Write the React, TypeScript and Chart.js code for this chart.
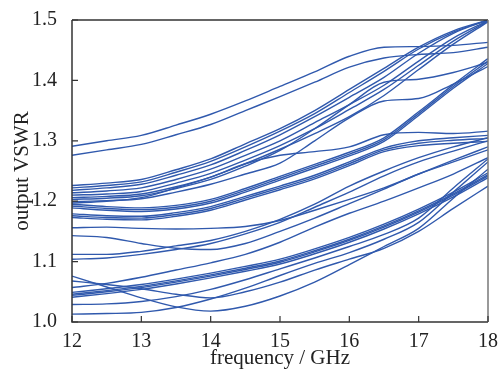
import React, { useEffect, useRef } from 'react';
import { Chart, registerables } from 'chart.js';

Chart.register(...registerables);

// frequency grid (GHz)
const freqs = [12, 12.5, 13, 13.5, 14, 14.5, 15, 15.5, 16, 16.5, 17, 17.5, 18];
const xTicks = [12, 13, 14, 15, 16, 17, 18];
const yTicks = [1.0, 1.1, 1.2, 1.3, 1.4, 1.5];

// top pair
const lineA1 = [1.291, 1.300, 1.309, 1.326, 1.344, 1.366, 1.390, 1.414, 1.440, 1.455, 1.456, 1.458, 1.463];
const lineA2 = [1.276, 1.285, 1.294, 1.310, 1.327, 1.350, 1.373, 1.397, 1.422, 1.437, 1.443, 1.446, 1.455];
// upper cluster converging to 1.5
const lineB1 = [1.226, 1.230, 1.236, 1.252, 1.270, 1.295, 1.320, 1.350, 1.385, 1.420, 1.455, 1.482, 1.500];
const lineB2 = [1.222, 1.226, 1.232, 1.248, 1.266, 1.290, 1.316, 1.345, 1.380, 1.415, 1.452, 1.480, 1.500];
const lineB3 = [1.218, 1.222, 1.228, 1.243, 1.260, 1.284, 1.310, 1.340, 1.372, 1.405, 1.445, 1.478, 1.500];
const lineB4 = [1.214, 1.217, 1.222, 1.236, 1.253, 1.276, 1.300, 1.330, 1.360, 1.392, 1.432, 1.470, 1.499];
const lineB5 = [1.210, 1.212, 1.216, 1.230, 1.246, 1.268, 1.292, 1.320, 1.352, 1.385, 1.425, 1.465, 1.498];
const lineB6 = [1.206, 1.208, 1.212, 1.224, 1.240, 1.262, 1.286, 1.312, 1.340, 1.375, 1.418, 1.460, 1.497];
const lineB7 = [1.203, 1.205, 1.209, 1.221, 1.236, 1.258, 1.284, 1.320, 1.360, 1.397, 1.402, 1.413, 1.430];
const lineB8 = [1.199, 1.201, 1.204, 1.215, 1.228, 1.245, 1.263, 1.300, 1.338, 1.366, 1.370, 1.394, 1.423];
const lineF1 = [1.197, 1.200, 1.206, 1.222, 1.240, 1.262, 1.276, 1.282, 1.290, 1.310, 1.314, 1.312, 1.316];
// thick bundle rising to 1.43
const lineC1 = [1.195, 1.191, 1.189, 1.193, 1.203, 1.221, 1.241, 1.261, 1.281, 1.305, 1.348, 1.393, 1.436];
const lineC2 = [1.192, 1.188, 1.186, 1.190, 1.200, 1.218, 1.238, 1.258, 1.278, 1.302, 1.345, 1.390, 1.432];
const lineC3 = [1.189, 1.185, 1.183, 1.187, 1.197, 1.215, 1.235, 1.255, 1.275, 1.299, 1.342, 1.387, 1.428];
// thick bundle levelling at 1.30
const lineD1 = [1.179, 1.176, 1.175, 1.181, 1.191, 1.208, 1.225, 1.243, 1.265, 1.288, 1.300, 1.305, 1.309];
const lineD2 = [1.176, 1.173, 1.172, 1.178, 1.188, 1.205, 1.222, 1.240, 1.262, 1.285, 1.296, 1.301, 1.304];
const lineD3 = [1.173, 1.170, 1.169, 1.175, 1.185, 1.202, 1.219, 1.237, 1.259, 1.282, 1.292, 1.296, 1.299];
// middle lines
const lineG1 = [1.156, 1.157, 1.155, 1.154, 1.155, 1.158, 1.168, 1.185, 1.203, 1.222, 1.245, 1.268, 1.290];
const lineG2 = [1.143, 1.140, 1.130, 1.122, 1.120, 1.130, 1.150, 1.172, 1.196, 1.220, 1.245, 1.265, 1.285];
const lineG3 = [1.112, 1.112, 1.117, 1.126, 1.135, 1.150, 1.170, 1.195, 1.225, 1.250, 1.272, 1.290, 1.305];
const lineG4 = [1.104, 1.106, 1.112, 1.120, 1.130, 1.146, 1.165, 1.190, 1.215, 1.242, 1.265, 1.283, 1.300];
// lower lines
const lineH1 = [1.076, 1.058, 1.040, 1.025, 1.018, 1.026, 1.043, 1.066, 1.095, 1.125, 1.155, 1.205, 1.253];
const lineH2 = [1.013, 1.014, 1.016, 1.024, 1.038, 1.056, 1.077, 1.097, 1.115, 1.137, 1.165, 1.215, 1.265];
const lineH3 = [1.029, 1.030, 1.034, 1.042, 1.054, 1.070, 1.088, 1.106, 1.125, 1.145, 1.172, 1.222, 1.270];
const lineH4 = [1.068, 1.062, 1.055, 1.046, 1.040, 1.050, 1.066, 1.086, 1.104, 1.122, 1.150, 1.188, 1.225];
const lineH5 = [1.057, 1.064, 1.074, 1.086, 1.098, 1.112, 1.132, 1.157, 1.180, 1.200, 1.222, 1.245, 1.272];
// thick lowest bundle
const lineE1 = [1.049, 1.055, 1.062, 1.071, 1.081, 1.092, 1.104, 1.121, 1.140, 1.162, 1.187, 1.215, 1.247];
const lineE2 = [1.046, 1.052, 1.059, 1.068, 1.078, 1.089, 1.101, 1.118, 1.137, 1.159, 1.184, 1.212, 1.244];
const lineE3 = [1.044, 1.050, 1.057, 1.066, 1.076, 1.087, 1.099, 1.116, 1.135, 1.157, 1.182, 1.210, 1.242];
const lineE4 = [1.041, 1.047, 1.054, 1.063, 1.073, 1.084, 1.096, 1.113, 1.132, 1.154, 1.179, 1.207, 1.239];

const allLines = [
  lineA1, lineA2, lineB1, lineB2, lineB3, lineB4, lineB5, lineB6, lineB7, lineB8, lineF1,
  lineC1, lineC2, lineC3, lineD1, lineD2, lineD3, lineG1, lineG2, lineG3, lineG4,
  lineH1, lineH2, lineH3, lineH4, lineH5, lineE1, lineE2, lineE3, lineE4,
];

const LINE_COLOR = '#3059ad';
const FONT_FAMILY = "'Liberation Serif', 'Times New Roman', serif";

const framePlugin = {
  id: 'frame',
  afterDatasetsDraw(chart: any) {
    const { ctx, chartArea, scales } = chart;
    const { left, right, top, bottom } = chartArea;
    ctx.save();
    ctx.lineWidth = 1.5;
    ctx.strokeStyle = '#333333';
    ctx.beginPath();
    ctx.moveTo(left, top);
    ctx.lineTo(right, top);
    ctx.moveTo(left, top);
    ctx.lineTo(left, bottom);
    ctx.lineTo(right, bottom);
    ctx.stroke();
    ctx.strokeStyle = '#777777';
    ctx.beginPath();
    ctx.moveTo(right, top);
    ctx.lineTo(right, bottom);
    ctx.stroke();
    ctx.strokeStyle = '#333333';
    ctx.lineWidth = 1.2;
    ctx.beginPath();
    yTicks.forEach((v) => {
      const y = scales.y.getPixelForValue(v);
      ctx.moveTo(left, y);
      ctx.lineTo(left + 6, y);
    });
    xTicks.forEach((v) => {
      const x = scales.x.getPixelForValue(v);
      ctx.moveTo(x, bottom);
      ctx.lineTo(x, bottom - 6);
    });
    ctx.stroke();
    ctx.restore();
  },
};

export default function App() {
  const canvasRef = useRef<HTMLCanvasElement | null>(null);

  useEffect(() => {
    document.body.style.margin = '0';
    const canvas = canvasRef.current;
    if (!canvas) return;
    const chart = new Chart(canvas, {
      type: 'line',
      data: {
        datasets: allLines.map((vals, i) => ({
          label: 'line ' + (i + 1),
          data: freqs.map((f, j) => ({ x: f, y: vals[j] })),
          borderColor: LINE_COLOR,
          borderWidth: 1.4,
          pointRadius: 0,
          fill: false,
          cubicInterpolationMode: 'monotone' as const,
        })),
      },
      options: {
        animation: false,
        responsive: false,
        devicePixelRatio: 1,
        layout: { padding: { left: 0, right: 13, top: 20, bottom: 0 } },
        plugins: { legend: { display: false }, tooltip: { enabled: false } },
        scales: {
          x: {
            type: 'linear',
            min: 12,
            max: 18,
            grid: { display: false },
            border: { display: false },
            afterFit: (s: any) => { s.height = 49; },
            afterBuildTicks: (s: any) => { s.ticks = xTicks.map((v) => ({ value: v })); },
            ticks: { color: '#222', padding: 0, font: { family: FONT_FAMILY, size: 20 }, maxRotation: 0 },
            title: { display: true, text: 'frequency / GHz', color: '#222', padding: { top: 0, bottom: 0 }, font: { family: FONT_FAMILY, size: 21 } },
          },
          y: {
            type: 'linear',
            min: 1.0,
            max: 1.5,
            grid: { display: false },
            border: { display: false },
            afterFit: (s: any) => { s.width = 72; },
            afterBuildTicks: (s: any) => { s.ticks = yTicks.map((v) => ({ value: v })); },
            ticks: { color: '#222', padding: 7, font: { family: FONT_FAMILY, size: 20 }, callback: (v: any) => Number(v).toFixed(1) },
            title: { display: true, text: 'output VSWR', color: '#222', padding: { top: 10, bottom: 0 }, font: { family: FONT_FAMILY, size: 21 } },
          },
        },
      },
      plugins: [framePlugin],
    });
    return () => chart.destroy();
  }, []);

  return (
    <div style={{ width: 501, height: 371 }}>
      <canvas ref={canvasRef} width={501} height={371} />
    </div>
  );
}
